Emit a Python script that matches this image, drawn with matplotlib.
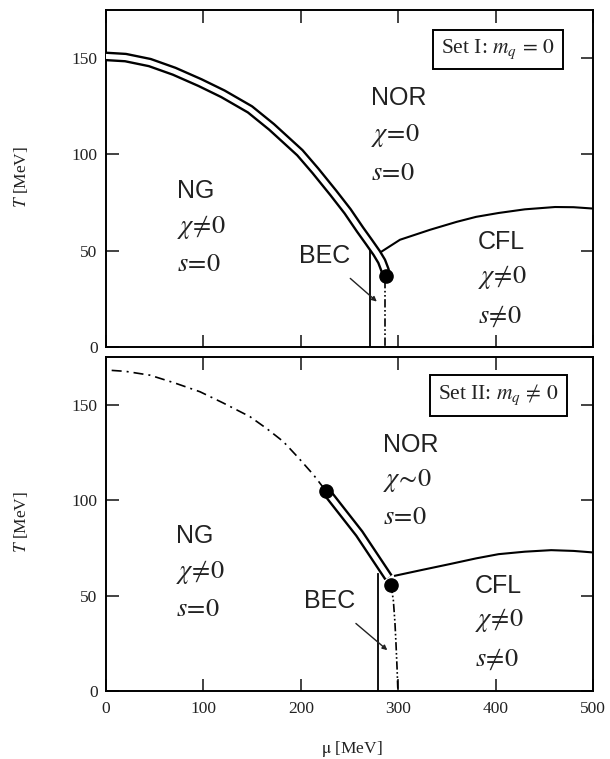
import matplotlib
matplotlib.use("Agg")
import matplotlib.pyplot as plt
import numpy as np

plt.rcParams['font.family'] = ['Liberation Serif', 'DejaVu Serif']
plt.rcParams['mathtext.fontset'] = 'stix'

# ---------------- Data (Set I) ----------------
s1_first_mu = [0, 20, 45, 70, 96.5, 120, 147.8, 170, 199, 215, 233.4, 248, 260.8, 270, 277.9, 283, 286.4, 287.5]
s1_first_T = [150.9, 150.3, 147.7, 143.2, 137.3, 131.5, 123.4, 114.3, 100.9, 91.5, 80, 70.5, 61, 54.5, 48.8, 44.5, 40, 37]
s1_cep_mu = [287.5]
s1_cep_T = [37]
s1_bec_mu = [271, 271]
s1_bec_T = [0, 50.5]
s1_cross_mu = [286.4, 286.4]
s1_cross_T = [35, 0]
s1_cfl_mu = [283, 301.8, 332.8, 360, 380, 403, 430, 461, 480, 500]
s1_cfl_T = [49.6, 55.7, 60.9, 65.0, 67.6, 69.6, 71.5, 72.7, 72.6, 71.9]

# ---------------- Data (Set II) ----------------
s2_cross_mu = [5.8, 20, 45, 70, 96.5, 120, 147.8, 165, 182, 197, 212.8, 225.5]
s2_cross_T = [168, 167.5, 165.5, 161.5, 156.8, 151, 143.75, 137.5, 130.7, 122.5, 113.4, 105]
s2_first_mu = [225.5, 260, 290]
s2_first_T = [105, 82.5, 59.5]
s2_cep_mu = [225.5, 292.6]
s2_cep_T = [105, 55.6]
s2_bec_mu = [279.6, 279.6]
s2_bec_T = [0, 61.3]
s2_cross2_mu = [292.6, 295, 296.6, 297.7, 298.8, 299.5, 300]
s2_cross2_T = [55.6, 47.4, 36, 24.8, 12, 2, 0]
s2_cfl_mu = [296.7, 325, 352.9, 380, 403, 430, 457, 480, 500]
s2_cfl_T = [60.4, 63.5, 66.5, 69.5, 71.7, 73.0, 73.8, 73.4, 72.6]

x_ticks = [0, 100, 200, 300, 400, 500]
y_ticks = [0, 50, 100, 150]

fig = plt.figure(figsize=(6.10, 7.59), dpi=100)
ax1 = fig.add_axes([0.1738, 0.5428, 0.7984, 0.4440])
ax2 = fig.add_axes([0.1738, 0.0896, 0.7984, 0.4400])

def style(ax, xlabels):
    ax.set_xlim(0, 500)
    ax.set_ylim(0, 175)
    ax.set_xticks(x_ticks)
    ax.set_yticks(y_ticks)
    ax.tick_params(direction='in', top=True, right=True, length=9, width=1.2,
                   labelsize=12.5, colors='#222222', pad=6)
    ax.tick_params(axis='x', pad=7)
    if not xlabels:
        ax.set_xticklabels([])
    for s in ax.spines.values():
        s.set_linewidth(1.4)
    ax.set_ylabel(r'$T$ [MeV]', fontsize=12.5, color='#222222')
    ax.yaxis.set_label_coords(-0.156, 0.505)

style(ax1, False)
style(ax2, True)
ax2.set_xlabel(r'$\mathrm{\mu}$ [MeV]', fontsize=12.5, color='#222222')
ax2.xaxis.set_label_coords(0.505, -0.145)

sans = ['Liberation Sans', 'DejaVu Sans']
txtc = '#222222'
lab_fs = 18
math_fs = 19

def region_labels(ax, items):
    for x, y, s, fam in items:
        ax.text(x, y, s, fontsize=lab_fs if fam == 'sans' else math_fs,
                family=sans if fam == 'sans' else None, color=txtc,
                ha='left', va='center')

# ---------- Top panel ----------
ax1.plot(s1_first_mu, s1_first_T, color='black', lw=7, solid_capstyle='round',
         solid_joinstyle='round', zorder=3)
ax1.plot(s1_first_mu[:-1], s1_first_T[:-1], color='white', lw=3.6, solid_capstyle='round',
         solid_joinstyle='round', zorder=4)
ax1.plot(s1_bec_mu, s1_bec_T, color='black', lw=1.3, zorder=2)
ax1.plot(s1_cross_mu, s1_cross_T, color='black', lw=1.2, dashes=(5, 1.5, 1, 1.5, 1, 1.5), zorder=2)
ax1.plot(s1_cfl_mu, s1_cfl_T, color='black', lw=1.5, zorder=2)
ax1.plot(s1_cep_mu, s1_cep_T, 'o', color='black', ms=9.5, zorder=5)

region_labels(ax1, [
    (272, 129.2, 'NOR', 'sans'),
    (272, 110, r'$\chi\!=\!0$', 'math'),
    (272, 89.8, r'$s\!=\!0$', 'math'),
    (72.9, 81, 'NG', 'sans'),
    (72.9, 62.5, r'$\chi\!\neq\!0$', 'math'),
    (72.9, 42.4, r'$s\!=\!0$', 'math'),
    (382, 54.4, 'CFL', 'sans'),
    (382, 36.5, r'$\chi\!\neq\!0$', 'math'),
    (382, 15.9, r'$s\!\neq\!0$', 'math'),
])
ax1.annotate('BEC', xy=(278, 23.6), xytext=(224.8, 47.1), fontsize=lab_fs, family=sans,
             color=txtc, ha='center', va='center',
             arrowprops=dict(arrowstyle='-|>', lw=1.0, color='#222222',
                             shrinkA=8, shrinkB=0, mutation_scale=7))
ax1.text(0.804, 0.883, r'Set I: $m_q\,=\,0$', transform=ax1.transAxes, fontsize=15.5,
         ha='center', va='center', color=txtc,
         bbox=dict(boxstyle='square,pad=0.38', fc='white', ec='black', lw=1.4))

# ---------- Bottom panel ----------
ax2.plot(s2_cross_mu, s2_cross_T, color='black', lw=1.2, dashes=(6, 3, 1.2, 3), zorder=2)
ax2.plot(s2_first_mu, s2_first_T, color='black', lw=7, solid_capstyle='butt', zorder=3)
ax2.plot(s2_first_mu, s2_first_T, color='white', lw=3.6, solid_capstyle='butt', zorder=4)
ax2.plot(s2_bec_mu, s2_bec_T, color='black', lw=1.3, zorder=2)
ax2.plot(s2_cross2_mu, s2_cross2_T, color='black', lw=1.2, dashes=(5, 1.5, 1, 1.5, 1, 1.5), zorder=2)
ax2.plot(s2_cfl_mu, s2_cfl_T, color='black', lw=1.5, zorder=2)
ax2.plot(s2_cep_mu, s2_cep_T, 'o', color='black', ms=9.5, zorder=5)

region_labels(ax2, [
    (283.9, 128.9, 'NOR', 'sans'),
    (283.9, 110.2, r'$\chi\!\sim\!0$', 'math'),
    (283.9, 90.4, r'$s\!=\!0$', 'math'),
    (71.9, 81.3, 'NG', 'sans'),
    (71.9, 62.2, r'$\chi\!\neq\!0$', 'math'),
    (71.9, 42.4, r'$s\!=\!0$', 'math'),
    (378.9, 55.2, 'CFL', 'sans'),
    (378.9, 37, r'$\chi\!\neq\!0$', 'math'),
    (378.9, 16.4, r'$s\!\neq\!0$', 'math'),
])
ax2.annotate('BEC', xy=(288.8, 21.4), xytext=(230, 46.9), fontsize=lab_fs, family=sans,
             color=txtc, ha='center', va='center',
             arrowprops=dict(arrowstyle='-|>', lw=1.0, color='#222222',
                             shrinkA=8, shrinkB=0, mutation_scale=7))
ax2.text(0.805, 0.886, r'Set II: $m_q\,\neq\,0$', transform=ax2.transAxes, fontsize=15.5,
         ha='center', va='center', color=txtc,
         bbox=dict(boxstyle='square,pad=0.38', fc='white', ec='black', lw=1.4))

fig.savefig('out.png', dpi=100)
